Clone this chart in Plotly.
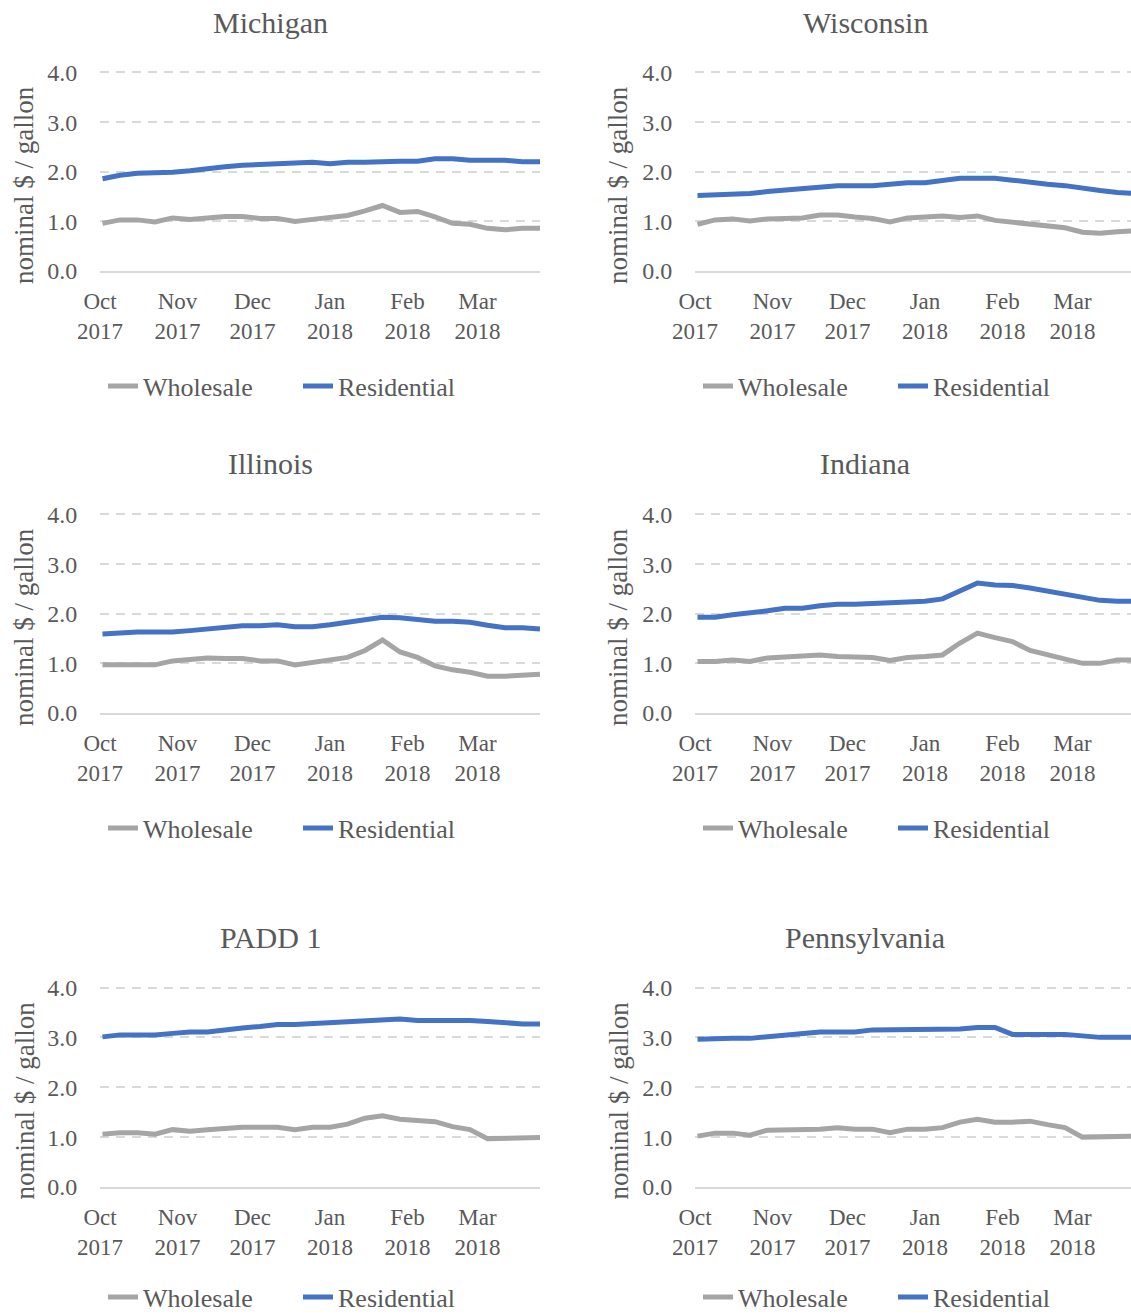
import plotly.graph_objects as go
import pandas as pd

# Weekly observations, first Monday of October 2017 through end of March 2018
weeks = pd.date_range("2017-10-02", periods=26, freq="7D")

month_ticks = ["2017-10-01", "2017-11-01", "2017-12-01",
               "2018-01-01", "2018-02-01", "2018-03-01"]
month_labels = ["Oct<br>2017", "Nov<br>2017", "Dec<br>2017",
                "Jan<br>2018", "Feb<br>2018", "Mar<br>2018"]

y_ticks = [0, 1, 2, 3, 4]
y_labels = ["0.0", "1.0", "2.0", "3.0", "4.0"]

regions = ["Michigan", "Wisconsin", "Illinois", "Indiana", "PADD 1", "Pennsylvania"]

michigan_wholesale = [0.96, 1.03, 1.03, 0.99, 1.07, 1.04, 1.07, 1.10, 1.10, 1.06, 1.06, 1.00, 1.04,
                      1.07, 1.12, 1.21, 1.32, 1.18, 1.20, 1.09, 0.96, 0.94, 0.86, 0.83, 0.86, 0.86]
michigan_residential = [1.86, 1.93, 1.97, 1.97, 1.99, 2.02, 2.07, 2.10, 2.13, 2.15, 2.17, 2.17, 2.19,
                        2.16, 2.19, 2.19, 2.21, 2.21, 2.21, 2.26, 2.26, 2.23, 2.23, 2.23, 2.20, 2.20]

wisconsin_wholesale = [0.94, 1.03, 1.05, 1.01, 1.05, 1.05, 1.07, 1.13, 1.13, 1.09, 1.06, 0.99, 1.07,
                       1.09, 1.11, 1.08, 1.11, 1.02, 0.98, 0.93, 0.91, 0.87, 0.78, 0.76, 0.79, 0.81]
wisconsin_residential = [1.52, 1.53, 1.53, 1.56, 1.60, 1.63, 1.66, 1.70, 1.72, 1.72, 1.72, 1.75, 1.78,
                         1.78, 1.83, 1.87, 1.87, 1.87, 1.83, 1.78, 1.75, 1.72, 1.66, 1.62, 1.58, 1.56]

illinois_wholesale = [0.97, 0.97, 0.97, 0.97, 1.05, 1.07, 1.11, 1.10, 1.10, 1.05, 1.05, 0.97, 1.02,
                      1.07, 1.12, 1.26, 1.47, 1.23, 1.12, 0.95, 0.87, 0.82, 0.74, 0.74, 0.75, 0.78]
illinois_residential = [1.59, 1.62, 1.63, 1.63, 1.63, 1.66, 1.69, 1.72, 1.76, 1.76, 1.78, 1.74, 1.74,
                        1.78, 1.83, 1.87, 1.93, 1.92, 1.89, 1.85, 1.85, 1.83, 1.77, 1.72, 1.72, 1.69]

indiana_wholesale = [1.04, 1.04, 1.07, 1.04, 1.11, 1.13, 1.17, 1.17, 1.14, 1.14, 1.12, 1.06, 1.12,
                     1.14, 1.17, 1.41, 1.61, 1.52, 1.44, 1.26, 1.17, 1.07, 1.00, 1.00, 1.07, 1.07]
indiana_residential = [1.93, 1.93, 1.98, 2.01, 2.06, 2.11, 2.11, 2.16, 2.19, 2.19, 2.21, 2.21, 2.23,
                       2.25, 2.30, 2.46, 2.62, 2.58, 2.57, 2.52, 2.46, 2.40, 2.32, 2.27, 2.25, 2.25]

padd1_wholesale = [1.06, 1.09, 1.09, 1.06, 1.15, 1.12, 1.15, 1.18, 1.20, 1.20, 1.20, 1.15, 1.20,
                   1.20, 1.26, 1.38, 1.43, 1.36, 1.33, 1.31, 1.21, 1.15, 0.97, 0.97, 0.99, 0.99]
padd1_residential = [3.01, 3.05, 3.05, 3.05, 3.08, 3.11, 3.11, 3.16, 3.19, 3.22, 3.26, 3.26, 3.28,
                     3.30, 3.32, 3.35, 3.37, 3.37, 3.34, 3.34, 3.35, 3.34, 3.32, 3.29, 3.27, 3.27]

pennsylvania_wholesale = [1.02, 1.08, 1.08, 1.04, 1.14, 1.14, 1.14, 1.16, 1.19, 1.16, 1.16, 1.09, 1.16,
                          1.16, 1.19, 1.30, 1.36, 1.30, 1.30, 1.32, 1.25, 1.19, 1.00, 1.00, 1.02, 1.02]
pennsylvania_residential = [2.96, 2.98, 2.98, 2.98, 3.01, 3.04, 3.06, 3.11, 3.11, 3.11, 3.15, 3.15, 3.15,
                            3.17, 3.17, 3.17, 3.20, 3.20, 3.06, 3.06, 3.06, 3.06, 3.03, 3.00, 3.00, 3.00]

wholesale = [michigan_wholesale, wisconsin_wholesale, illinois_wholesale,
             indiana_wholesale, padd1_wholesale, pennsylvania_wholesale]
residential = [michigan_residential, wisconsin_residential, illinois_residential,
               indiana_residential, padd1_residential, pennsylvania_residential]

W, H = 1131, 1315
FONT = "Liberation Serif"
TEXT = "#595959"
GRID = "#d9d9d9"
GRAY = "#a5a5a5"
BLUE = "#4472c4"

Y_MAX = 4.03  # a hair above 4 so the top gridline is drawn

# panel geometry in pixels
col_left = [100, 695]
col_right = [540, 1131]
col_center = [270, 865]
col_range_end = ["2018-03-26 00:00", "2018-03-24 10:00"]
row_top = [71, 513, 986]       # y = Y_MAX
row_bottom = [271, 713, 1187]  # y = 0.0
row_title = [22, 464, 937]
row_legend = [386, 828, 1297]
ylabel_x = [24, 618]


def px_x(v):
    return v / W


def px_y(v):
    return 1 - v / H


fig = go.Figure()
layout = dict(
    width=W, height=H,
    margin=dict(l=0, r=0, t=0, b=0, autoexpand=False),
    paper_bgcolor="white", plot_bgcolor="white",
    font=dict(family=FONT, color=TEXT, size=24),
    annotations=[],
)

for i, region in enumerate(regions):
    r, c = divmod(i, 2)
    n = i + 1
    xa = "x" if n == 1 else f"x{n}"
    ya = "y" if n == 1 else f"y{n}"
    lg = "legend" if n == 1 else f"legend{n}"

    fig.add_trace(go.Scatter(
        x=weeks, y=wholesale[i], mode="lines", name="Wholesale",
        line=dict(color=GRAY, width=5), xaxis=xa, yaxis=ya, legend=lg,
    ))
    fig.add_trace(go.Scatter(
        x=weeks, y=residential[i], mode="lines", name="Residential",
        line=dict(color=BLUE, width=5), xaxis=xa, yaxis=ya, legend=lg,
    ))

    xkey = "xaxis" if n == 1 else f"xaxis{n}"
    ykey = "yaxis" if n == 1 else f"yaxis{n}"
    layout[xkey] = dict(
        domain=[px_x(col_left[c]), px_x(col_right[c])],
        anchor=ya, type="date",
        range=["2017-10-01 00:00", col_range_end[c]],
        tickmode="array", tickvals=month_ticks, ticktext=month_labels,
        showgrid=False, zeroline=False,
        showline=True, linecolor=GRID, linewidth=1.5,
        ticks="outside", ticklen=9, tickcolor="rgba(0,0,0,0)",
        tickfont=dict(family=FONT, size=23, color=TEXT),
        automargin=False, fixedrange=True,
    )
    layout[ykey] = dict(
        domain=[px_y(row_bottom[r]), px_y(row_top[r])],
        anchor=xa, range=[0, Y_MAX],
        tickmode="array", tickvals=y_ticks, ticktext=y_labels,
        showgrid=True, gridcolor=GRID, gridwidth=1.5, griddash="9px,7px",
        zeroline=False, showline=False,
        ticks="outside", ticklen=17, tickcolor="rgba(0,0,0,0)",
        tickfont=dict(family=FONT, size=24, color=TEXT),
        automargin=False, fixedrange=True,
    )
    layout[lg] = dict(
        orientation="h", x=px_x(col_left[c] + 3), y=px_y(row_legend[r]),
        xanchor="left", yanchor="middle",
        font=dict(family=FONT, size=26, color=TEXT),
        bgcolor="rgba(0,0,0,0)", itemwidth=30, tracegroupgap=0,
        entrywidth=150, entrywidthmode="pixels",
    )
    layout["annotations"].append(dict(
        text=region, x=px_x(col_center[c]), y=px_y(row_title[r]),
        xref="paper", yref="paper", showarrow=False,
        xanchor="center", yanchor="middle",
        font=dict(family=FONT, size=30, color=TEXT),
    ))
    layout["annotations"].append(dict(
        text="nominal $ / gallon", textangle=-90,
        x=px_x(ylabel_x[c]), y=px_y((row_top[r] + row_bottom[r]) / 2 + 14),
        xref="paper", yref="paper", showarrow=False,
        xanchor="center", yanchor="middle",
        font=dict(family=FONT, size=27, color=TEXT),
    ))

fig.update_layout(**layout)
fig.write_html("out.html")
